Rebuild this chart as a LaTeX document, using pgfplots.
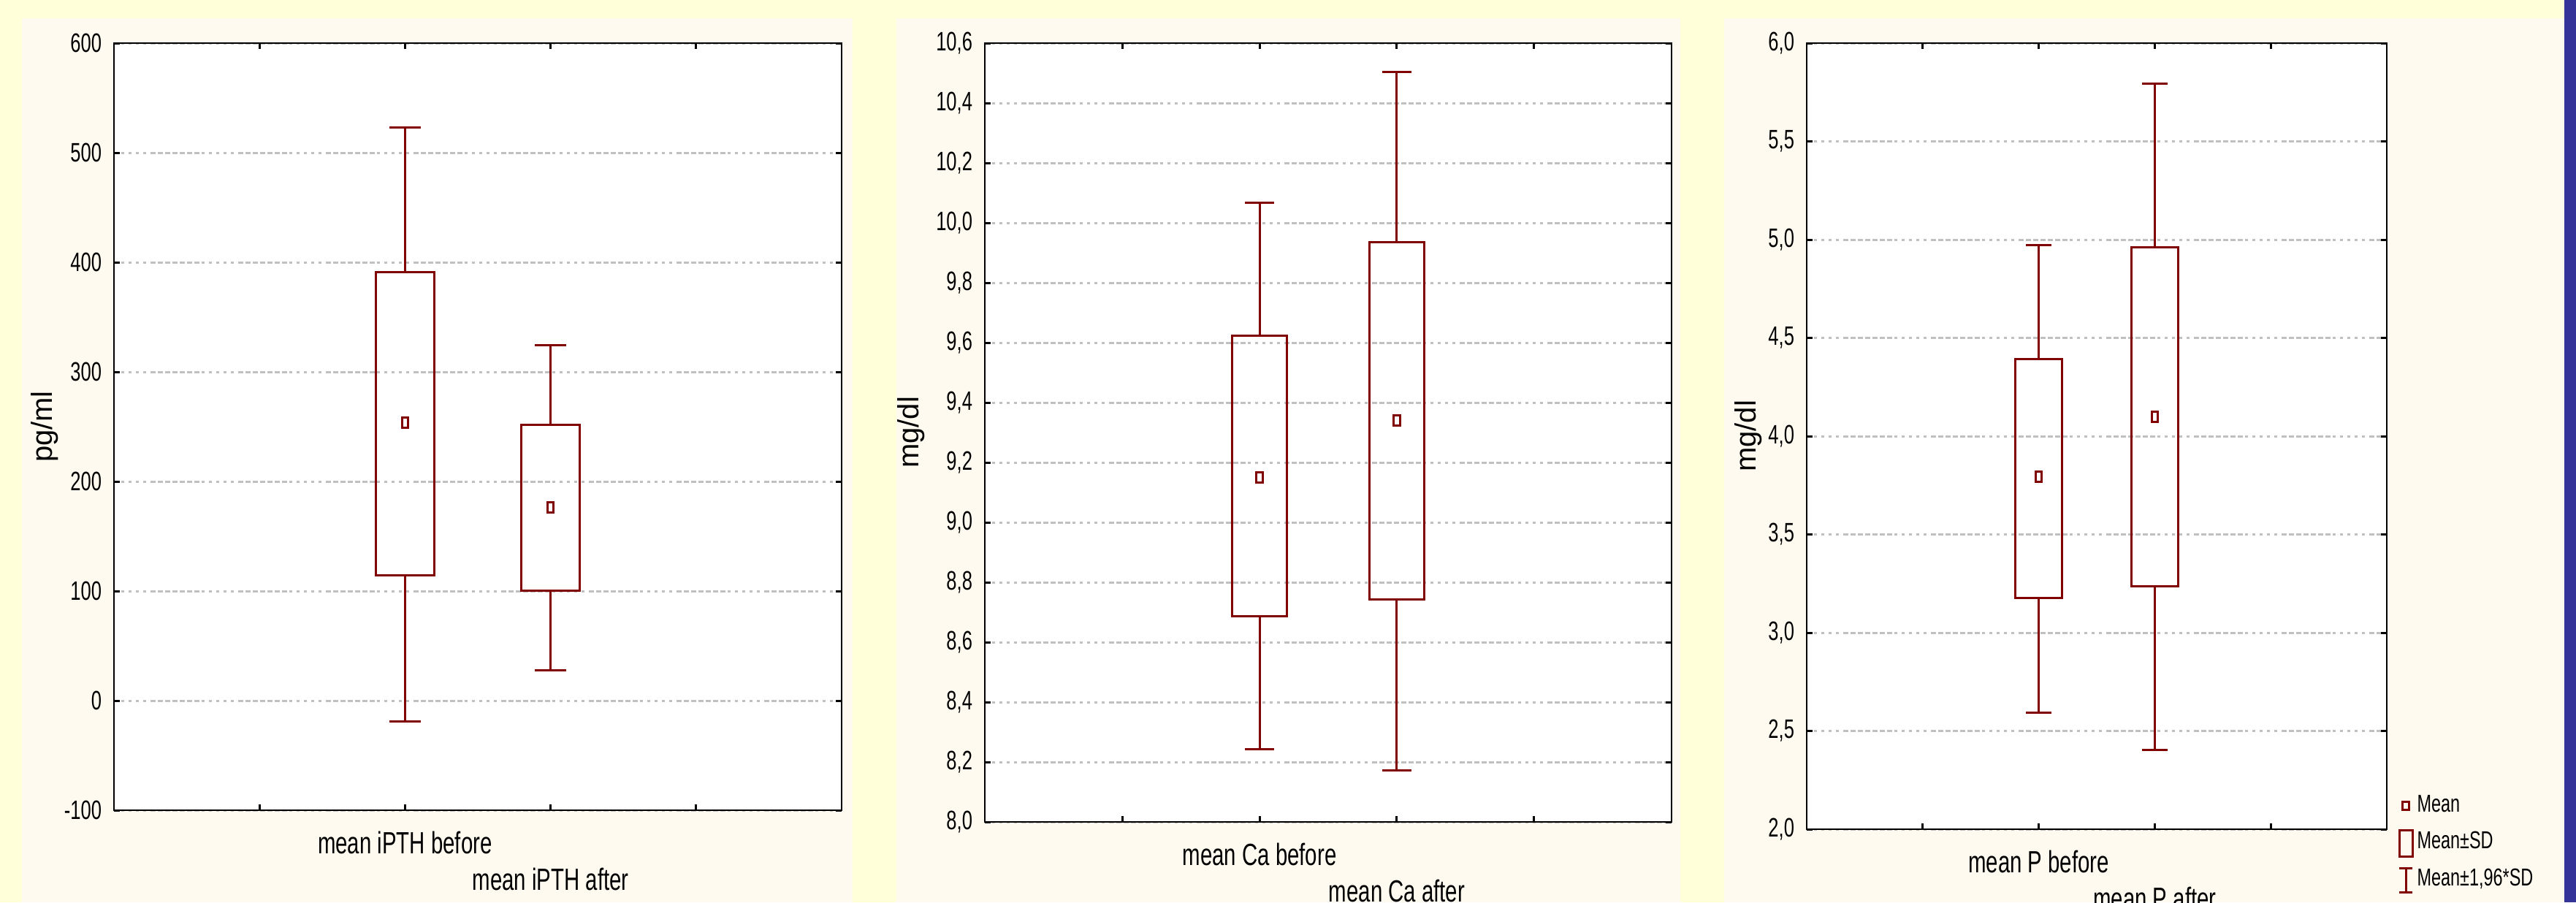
\documentclass[border=0pt]{standalone}
\usepackage{fontspec}
\setmainfont{Liberation Sans}[FakeStretch=0.7]
\newfontfamily\labelfont{Liberation Sans}
\usepackage{pgfplots}
\pgfplotsset{compat=1.18}
\definecolor{bgyellow}{HTML}{FFFFDA}
\definecolor{bgcream}{HTML}{FFFAEF}
\definecolor{bgblue}{HTML}{333399}
\definecolor{boxred}{HTML}{800000}
\definecolor{gridgray}{HTML}{C0C0C0}
\pgfplotsset{
  panel/.style={
    scale only axis, anchor=south west,
    axis background/.style={fill=white},
    axis line style={black, line width=0.55pt},
    tick style={black, line width=0.6pt},
    major tick length=1.6pt,
    tick align=inside,
    xtick pos=both, ytick pos=both,
    xmin=0, xmax=5,
    xtick={1,2,3,4},
    ymajorgrids,
    grid style={gridgray, line width=0.6pt, dash pattern=on 0.8pt off 1.2pt on 0.8pt off 1.2pt on 0.8pt off 1.2pt on 0.8pt off 1.2pt on 0.8pt off 1.2pt on 1.4pt off 0.6pt on 1.4pt off 0.6pt on 1.4pt off 0.6pt on 1.4pt off 0.6pt on 1.4pt off 0.6pt on 1.4pt off 0.6pt on 1.4pt off 0.6pt},
    /pgf/number format/assume math mode=true,
    yticklabel style={font=\fontsize{7.3}{8}\selectfont, anchor=east, inner sep=0pt, xshift=-3.2pt},
    xticklabel style={font=\fontsize{8.4}{9}\selectfont, anchor=north, inner sep=0pt, yshift=-5.6pt},
    extra x tick style={xticklabel style={yshift=-10pt}},
    every axis y label/.style={rotate=90, anchor=center, font=\labelfont\fontsize{8}{9}\selectfont},
    unbounded coords=jump,
  },
  bx/.style={boxred, line width=0.6pt, solid, no marks, line join=miter, line cap=rect},
  mn/.style={only marks, mark=square, mark size=1.4pt, mark options={boxred, line width=0.6pt, xscale=0.6, solid}},
}
\begin{document}
\begin{tikzpicture}
\path[use as bounding box] (0,0) rectangle (705.2pt,247pt);
\clip (0,0) rectangle (705.2pt,247pt);
\fill[bgyellow] (0,0) rectangle (705.2pt,247pt);
\fill[bgcream] (6pt,0) rectangle (233.4pt,242pt);
\fill[bgcream] (245.4pt,0) rectangle (460pt,242pt);
\fill[bgcream] (472pt,0) rectangle (702pt,242pt);
\fill[bgblue] (702pt,0) rectangle (705.2pt,247pt);

% Panel 1: iPTH  (mean, mean-SD, mean+SD, mean-1.96SD, mean+1.96SD)
\begin{axis}[panel, at={(31.2pt,25.2pt)}, width=199.2pt, height=210pt,
  ymin=-100, ymax=600,
  ytick={-100,0,100,200,300,400,500,600},
  yticklabels={-100,0,100,200,300,400,500,600},
  xticklabels={{},{mean iPTH before},{},{}},
  extra x ticks={3}, extra x tick labels={mean iPTH after},
  ylabel={pg/ml},
  ylabel style={at={(axis description cs:-0.0954,0.5)}}]
% whiskers and caps
\addplot[bx] coordinates {
 (2,391.0) (2,522.8) (2,nan) (1.9,522.8) (2.1,522.8) (2,nan)
 (2,114.2) (2,-18.7) (2,nan) (1.9,-18.7) (2.1,-18.7) (2,nan)
 (3,251.8) (3,324.3) (3,nan) (2.9,324.3) (3.1,324.3) (3,nan)
 (3,100.5) (3,28.0) (3,nan) (2.9,28.0) (3.1,28.0)};
% boxes (mean +- SD)
\addplot[bx] coordinates {(1.8,114.2) (2.2,114.2) (2.2,391.0) (1.8,391.0) (1.8,114.2) (2.2,114.2)};
\addplot[bx] coordinates {(2.8,100.5) (3.2,100.5) (3.2,251.8) (2.8,251.8) (2.8,100.5) (3.2,100.5)};
% means
\addplot[mn] coordinates {(2,253.5) (3,176.2)};
\end{axis}

% Panel 2: Ca
\begin{axis}[panel, at={(269.6pt,22.0pt)}, width=188pt, height=213.2pt,
  ymin=8, ymax=10.6,
  ytick={8.0,8.2,8.4,8.6,8.8,9.0,9.2,9.4,9.6,9.8,10.0,10.2,10.4,10.6},
  yticklabels={{8,0},{8,2},{8,4},{8,6},{8,8},{9,0},{9,2},{9,4},{9,6},{9,8},{10,0},{10,2},{10,4},{10,6}},
  xticklabels={{},{mean Ca before},{},{}},
  extra x ticks={3}, extra x tick labels={mean Ca after},
  ylabel={mg/dl},
  ylabel style={at={(axis description cs:-0.1074,0.5)}}]
\addplot[bx] coordinates {
 (2,9.624) (2,10.068) (2,nan) (1.9,10.068) (2.1,10.068) (2,nan)
 (2,8.686) (2,8.242) (2,nan) (1.9,8.242) (2.1,8.242) (2,nan)
 (3,9.935) (3,10.504) (3,nan) (2.9,10.504) (3.1,10.504) (3,nan)
 (3,8.742) (3,8.173) (3,nan) (2.9,8.173) (3.1,8.173)};
\addplot[bx] coordinates {(1.8,8.686) (2.2,8.686) (2.2,9.624) (1.8,9.624) (1.8,8.686) (2.2,8.686)};
\addplot[bx] coordinates {(2.8,8.742) (3.2,8.742) (3.2,9.935) (2.8,9.935) (2.8,8.742) (3.2,8.742)};
\addplot[mn] coordinates {(2,9.151) (3,9.340)};
\end{axis}

% Panel 3: P
\begin{axis}[panel, at={(494.6pt,20.0pt)}, width=158.8pt, height=215.2pt,
  ymin=2, ymax=6,
  ytick={2.0,2.5,3.0,3.5,4.0,4.5,5.0,5.5,6.0},
  yticklabels={{2,0},{2,5},{3,0},{3,5},{4,0},{4,5},{5,0},{5,5},{6,0}},
  xticklabels={{},{mean P before},{},{}},
  extra x ticks={3}, extra x tick labels={mean P after},
  ylabel={mg/dl},
  ylabel style={at={(axis description cs:-0.1008,0.5)}},
  legend style={at={(axis description cs:1,0)}, anchor=north west, xshift=3.1pt, yshift=10.4pt,
    draw=none, fill=none, inner sep=0pt, outer sep=0pt, row sep=2pt,
    font=\fontsize{6.7}{7.5}\selectfont, nodes={inner sep=1pt},
    /tikz/every even column/.append style={column sep=0.7pt}},
  legend cell align=left]
\addplot[bx, forget plot] coordinates {
 (2,4.392) (2,4.972) (2,nan) (1.9,4.972) (2.1,4.972) (2,nan)
 (2,3.177) (2,2.594) (2,nan) (1.9,2.594) (2.1,2.594) (2,nan)
 (3,4.960) (3,5.795) (3,nan) (2.9,5.795) (3.1,5.795) (3,nan)
 (3,3.236) (3,2.404) (3,nan) (2.9,2.404) (3.1,2.404)};
\addplot[bx, forget plot] coordinates {(1.8,3.177) (2.2,3.177) (2.2,4.392) (1.8,4.392) (1.8,3.177) (2.2,3.177)};
\addplot[bx, forget plot] coordinates {(2.8,3.236) (3.2,3.236) (3.2,4.960) (2.8,4.960) (2.8,3.236) (3.2,3.236)};
\addplot[mn, forget plot] coordinates {(2,3.792) (3,4.097)};
\addlegendimage{legend image code/.code={\draw[boxred, line width=0.6pt] (-0.9pt,-1.1pt) rectangle (0.9pt,1.1pt);}}
\addlegendentry{Mean}
\addlegendimage{legend image code/.code={\draw[boxred, line width=0.6pt] (-1.8pt,-3.6pt) rectangle (1.8pt,3.6pt);}}
\addlegendentry{Mean±SD}
\addlegendimage{legend image code/.code={\draw[boxred, line width=0.6pt] (0,-3.3pt) -- (0,3.3pt) (-1.8pt,-3.3pt) -- (1.8pt,-3.3pt) (-1.8pt,3.3pt) -- (1.8pt,3.3pt);}}
\addlegendentry{Mean±1,96*SD}
\end{axis}
\end{tikzpicture}
\end{document}
